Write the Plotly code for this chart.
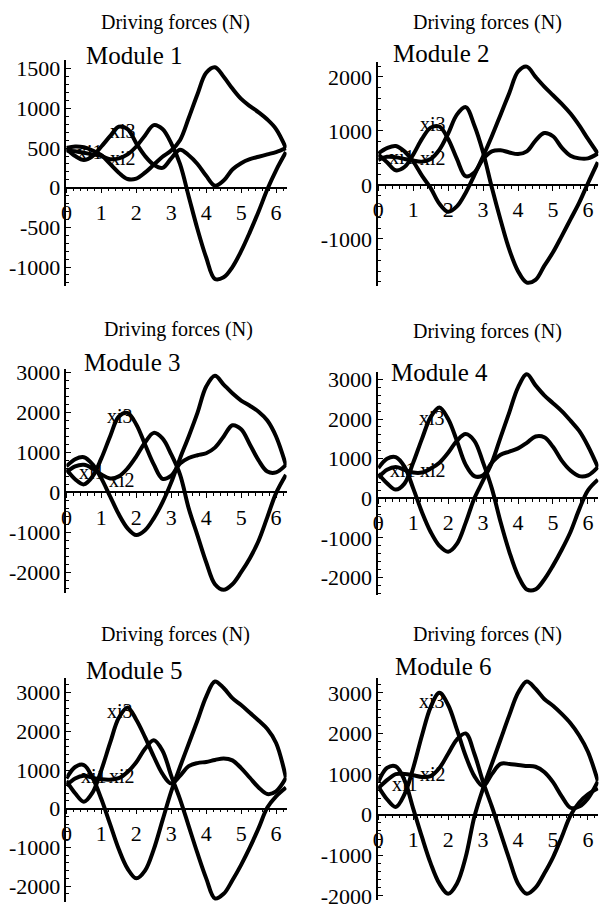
import plotly.graph_objects as go

W, H = 603, 914
FONT = "Liberation Serif"

# shared abscissa (crank angle, rad)
x_vals = [0.0, 0.25, 0.5, 0.75, 1.0, 1.25, 1.5, 1.75, 2.0, 2.25, 2.5, 2.75, 3.0,
          3.25, 3.5, 3.75, 4.0, 4.25, 4.5, 4.75, 5.0, 5.25, 5.5, 5.75, 6.0, 6.283]

# Module 1
m1_xi1 = [500, 520, 510, 470, 410, 300, 190, 110, 115, 190, 290, 390, 470,
          600, 880, 1180, 1450, 1520, 1400, 1250, 1120, 1030, 950, 860, 740, 500]
m1_xi3 = [490, 400, 350, 400, 520, 650, 770, 740, 560, 400, 290, 250, 370,
          480, 410, 300, 150, 25, 90, 230, 310, 360, 390, 420, 450, 500]
m1_xi2 = [470, 460, 440, 420, 400, 360, 370, 420, 520, 660, 790, 740, 560,
          300, -110, -520, -880, -1150, -1130, -1000, -800, -560, -300, -20, 220, 450]
# Module 2
m2_xi1 = [580, 680, 720, 620, 430, 170, -60, -350, -500, -400, -150, 180, 530,
          900, 1300, 1700, 2100, 2190, 2000, 1820, 1660, 1500, 1320, 1100, 850, 580]
m2_xi3 = [560, 420, 270, 330, 560, 850, 1060, 1080, 850, 480, 160, 230, 480,
          620, 640, 600, 570, 620, 820, 960, 900, 690, 540, 490, 490, 580]
m2_xi2 = [460, 520, 510, 480, 450, 430, 480, 650, 950, 1300, 1440, 1100, 600,
          -50, -650, -1200, -1600, -1810, -1760, -1500, -1250, -950, -640, -330, 30, 420]
# Module 3
m3_xi1 = [650, 830, 880, 700, 350, -100, -550, -900, -1070, -950, -650, -250, 250,
          850, 1400, 1990, 2650, 2920, 2700, 2480, 2300, 2170, 2020, 1800, 1400, 680]
m3_xi3 = [580, 330, 200, 400, 850, 1400, 1900, 1990, 1700, 1200, 700, 340, 420,
          720, 860, 930, 980, 1120, 1400, 1680, 1580, 1200, 800, 520, 500, 690]
m3_xi2 = [500, 650, 690, 600, 450, 350, 400, 600, 900, 1250, 1490, 1350, 950,
          450, -400, -1075, -1750, -2300, -2440, -2300, -2000, -1650, -1210, -620, -20, 440]
# Module 4
m4_xi1 = [760, 1000, 1040, 800, 250, -350, -850, -1200, -1350, -1150, -620, 0, 450,
          900, 1540, 2170, 2800, 3130, 2850, 2600, 2400, 2200, 1960, 1700, 1320, 790]
m4_xi3 = [620, 380, 220, 370, 900, 1500, 2050, 2290, 2000, 1450, 850, 560, 580,
          900, 1100, 1180, 1260, 1400, 1560, 1540, 1300, 950, 700, 560, 580, 790]
m4_xi2 = [520, 720, 790, 720, 650, 650, 750, 900, 1150, 1450, 1620, 1450, 900,
          250, -600, -1350, -1950, -2300, -2300, -2050, -1700, -1300, -850, -280, 200, 470]
# Module 5
m5_xi1 = [780, 1080, 1130, 800, 250, -400, -1050, -1550, -1800, -1600, -1050, -300, 450,
          1080, 1680, 2280, 2900, 3290, 3120, 2860, 2680, 2480, 2280, 2060, 1700, 800]
m5_xi3 = [720, 400, 180, 420, 1000, 1700, 2350, 2620, 2300, 1850, 1350, 900, 650,
          850, 1100, 1180, 1210, 1260, 1300, 1250, 1050, 800, 550, 380, 450, 800]
m5_xi2 = [600, 780, 850, 800, 760, 750, 790, 950, 1200, 1550, 1770, 1500, 850,
          250, -450, -1150, -1800, -2320, -2200, -1850, -1450, -1000, -500, 30, 320, 550]
# Module 6
m6_xi1 = [800, 1150, 1190, 850, 150, -550, -1200, -1700, -1950, -1700, -1050, -50, 650,
          1250, 1850, 2450, 3000, 3280, 3100, 2850, 2680, 2480, 2250, 1950, 1550, 830]
m6_xi3 = [700, 380, 190, 500, 1150, 1950, 2650, 3000, 2700, 2100, 1450, 950, 700,
          1000, 1250, 1250, 1220, 1200, 1180, 1050, 800, 450, 170, 200, 400, 820]
m6_xi2 = [650, 850, 1000, 1000, 970, 930, 950, 1150, 1500, 1850, 2000, 1500, 800,
          200, -450, -1100, -1700, -1950, -1800, -1450, -1050, -550, -20, 300, 500, 650]

x_ticks = [0, 1, 2, 3, 4, 5, 6]
y_ticks_m1 = [-1000, -500, 0, 500, 1000, 1500]
y_ticks_m2 = [-1000, 0, 1000, 2000]
y_ticks_m3to6 = [-2000, -1000, 0, 1000, 2000, 3000]
title_text = "Driving forces (N)"
module_names = ["Module 1", "Module 2", "Module 3", "Module 4", "Module 5", "Module 6"]
curve_names = ["xi1", "xi2", "xi3"]
series = [
    (m1_xi1, m1_xi2, m1_xi3), (m2_xi1, m2_xi2, m2_xi3), (m3_xi1, m3_xi2, m3_xi3),
    (m4_xi1, m4_xi2, m4_xi3), (m5_xi1, m5_xi2, m5_xi3), (m6_xi1, m6_xi2, m6_xi3),
]
y_ticks = [y_ticks_m1, y_ticks_m2, y_ticks_m3to6, y_ticks_m3to6, y_ticks_m3to6, y_ticks_m3to6]

# layout (pixels): y-axis x position, y-axis top/bottom, y range, minor step,
# title centre, module label position, xi label positions (data coords)
panels = [
    dict(x0=61, yt=53, yb=283, yr=(-1240, 1610), mdt=100,
         tc=(171, 15), mc=(79, 48), lab=[(0.68, 446), (1.61, 372), (1.61, 719)]),
    dict(x0=376, yt=55, yb=283, yr=(-1875, 2275), mdt=200,
         tc=(486, 15), mc=(389, 46), lab=[(0.68, 510), (1.58, 491), (1.58, 1119)]),
    dict(x0=61, yt=367, yb=595, yr=(-2510, 3100), mdt=200,
         tc=(174, 327), mc=(77, 361), lab=[(0.74, 517), (1.58, 320), (1.53, 1919)]),
    dict(x0=376, yt=370, yb=597, yr=(-2430, 3200), mdt=200,
         tc=(486, 329), mc=(387, 371), lab=[(0.71, 719), (1.58, 719), (1.53, 2034)]),
    dict(x0=61, yt=682, yb=910, yr=(-2413, 3378), mdt=200,
         tc=(171, 638), mc=(79, 674), lab=[(0.79, 846), (1.6, 846), (1.53, 2515)]),
    dict(x0=376, yt=682, yb=908, yr=(-2105, 3364), mdt=200,
         tc=(486, 638), mc=(391, 670), lab=[(0.77, 750), (1.58, 992), (1.55, 2807)]),
]
XMAX = 6.3
PX_PER_UNIT = 35.3


def tick_label(v):
    return "-" + str(-v) if v < 0 else str(v)


fig = go.Figure()
layout = dict(width=W, height=H, margin=dict(l=0, r=0, t=0, b=0),
              paper_bgcolor="white", plot_bgcolor="white", showlegend=False,
              font=dict(family=FONT, color="black"))
annotations = []
for i, (p, ys, yt) in enumerate(zip(panels, series, y_ticks), start=1):
    sfx = "" if i == 1 else str(i)
    for y in ys:
        fig.add_trace(go.Scatter(x=x_vals, y=y, mode="lines",
                                 line=dict(color="black", width=4, shape="spline", smoothing=1.0),
                                 xaxis="x" + sfx, yaxis="y" + sfx, hoverinfo="skip"))
    xd = [p["x0"] / W, (p["x0"] + PX_PER_UNIT * XMAX) / W]
    yd = [1 - p["yb"] / H, 1 - p["yt"] / H]
    ymin, ymax = p["yr"]
    zero_pos = yd[0] + (0 - ymin) / (ymax - ymin) * (yd[1] - yd[0])
    layout["xaxis" + sfx] = dict(
        domain=xd, range=[0, XMAX], anchor="free", position=zero_pos,
        showline=True, linecolor="black", linewidth=1.5, showgrid=False, zeroline=False,
        ticks="outside", ticklen=5, tickwidth=1.2, tickcolor="black",
        tickvals=x_ticks, ticktext=[str(v) for v in x_ticks], ticklabeloverflow="allow",
        tickfont=dict(family=FONT, size=22, color="black"),
        minor=dict(dtick=0.2, ticks="outside", ticklen=3, tickcolor="black", tickwidth=1),
    )
    layout["yaxis" + sfx] = dict(
        domain=yd, range=[ymin, ymax], anchor="x" + sfx,
        showline=True, linecolor="black", linewidth=1.5, showgrid=False, zeroline=False,
        ticks="inside", ticklen=5, tickwidth=1.2, tickcolor="black",
        tickvals=yt, ticktext=[tick_label(v) for v in yt], ticklabeloverflow="allow",
        tickfont=dict(family=FONT, size=22, color="black"),
        minor=dict(dtick=p["mdt"], tick0=0, ticks="inside", ticklen=3, tickcolor="black", tickwidth=1),
    )
    annotations.append(dict(text=title_text, xref="paper", yref="paper",
                            x=p["tc"][0] / W, y=1 - p["tc"][1] / H, xanchor="center",
                            yanchor="middle", showarrow=False,
                            font=dict(family=FONT, size=20, color="black")))
    annotations.append(dict(text=module_names[i - 1], xref="paper", yref="paper",
                            x=p["mc"][0] / W, y=1 - p["mc"][1] / H, xanchor="left",
                            yanchor="middle", showarrow=False,
                            font=dict(family=FONT, size=25, color="black")))
    for name, (lx, ly) in zip(curve_names, p["lab"]):
        annotations.append(dict(text=name, xref="x" + sfx, yref="y" + sfx, x=lx, y=ly,
                                xanchor="center", yanchor="middle", showarrow=False,
                                font=dict(family=FONT, size=20, color="black")))

layout["annotations"] = annotations
fig.update_layout(**layout)
fig.write_html("out.html", config={"displayModeBar": False},
               post_script="document.body.style.margin='0px';")
